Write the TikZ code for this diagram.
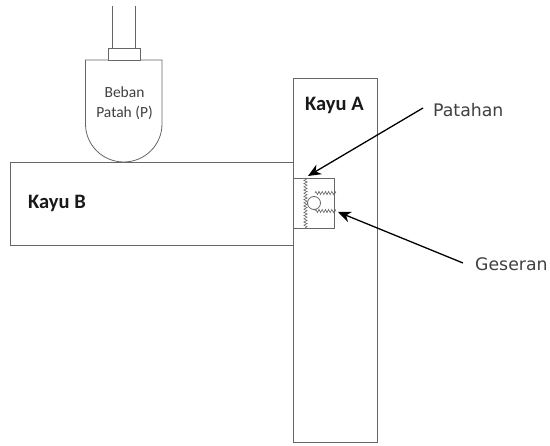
\documentclass[tikz,border=0pt]{standalone}
\usepackage{fontspec}
\setmainfont{Open Sans}
\newfontfamily\calfont{Carlito}
\newfontfamily\sidefont{DejaVu Sans}
\usetikzlibrary{decorations.pathmorphing,arrows.meta}
\definecolor{ln}{HTML}{666666}
\tikzset{
  part/.style={draw=ln,line width=0.8pt,fill=white},
  plain/.style={draw=ln,line width=0.8pt},
  spring/.style={draw=ln,line width=0.6pt,decorate,decoration={zigzag,segment length=3.2pt,amplitude=1.6pt}},
  pointer/.style={draw=black,line width=1.3pt,-{Stealth[length=13pt,width=11pt]}},
  bold label/.style={font=\calfont\fontsize{20.5}{24}\selectfont\bfseries,text=black!90,inner sep=0pt},
  side label/.style={font=\sidefont\fontsize{17.3}{20}\selectfont,text=black!75,inner sep=0pt},
  small label/.style={font=\calfont\fontsize{15.5}{20}\selectfont,text=black!75,align=center,inner sep=0pt}
}
\begin{document}
\begin{tikzpicture}[x=1pt,y=-1pt]
\useasboundingbox (0,0) rectangle (550,446);
\fill[white] (0,0) rectangle (550,446);
\node[part,minimum width=84pt,minimum height=364pt,inner sep=0pt,anchor=north west] (kayuA) at (293,78) {};
\node[part,minimum width=283pt,minimum height=83pt,inner sep=0pt,anchor=north west] (kayuB) at (10,162) {};
\draw[part] (85.5,60) -- (162,60) -- (162,124) arc[start angle=0,end angle=-180,x radius=38.25pt,y radius=38pt] -- cycle;
\node[part,minimum width=32pt,minimum height=12pt,inner sep=0pt,anchor=north west] (cap) at (108,48) {};
\coordinate (ra) at (112,6); \coordinate (rb) at (112,48);
\coordinate (rc) at (135,6); \coordinate (rd) at (135,48);
\draw[plain] (ra) -- (rb);
\draw[plain] (rc) -- (rd);
\node[part,minimum width=41pt,minimum height=50pt,inner sep=0pt,anchor=north west] (joint) at (293,178) {};
\coordinate (za) at (305.5,178); \coordinate (zb) at (305.5,228);
\draw[spring] (za) -- (zb);
\coordinate (zc) at (315,193); \coordinate (zd) at (336,193);
\coordinate (ze) at (315,211); \coordinate (zf) at (336,211);
\draw[spring] (zc) -- (zd);
\draw[spring] (ze) -- (zf);
\node[draw=ln,line width=0.8pt,fill=white,circle,minimum size=13pt,inner sep=0pt] (bolt) at (314,203) {};
\node[small label] (beban) at (124.5,103) {Beban\\Patah (P)};
\node[bold label,anchor=base west] (lb) at (28,209) {Kayu B};
\node[bold label,anchor=base west] (la) at (305,111) {Kayu A};
\node[side label,anchor=base west] (pat) at (433,117) {Patahan};
\node[side label,anchor=base west] (ges) at (475,271) {Geseran};
\coordinate (pa) at (308,176);
\coordinate (ga) at (338,212);
\draw[pointer] (pat.base west) ++(-10,-9) -- (pa);
\draw[pointer] (ges.base west) ++(-12,-8) -- (ga);
\end{tikzpicture}
\end{document}
